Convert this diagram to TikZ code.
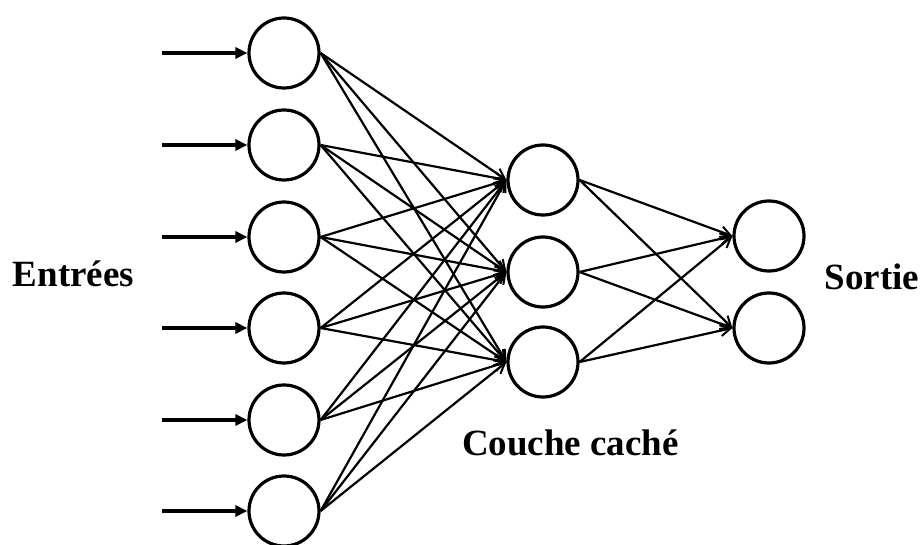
\documentclass[tikz,border=0pt]{standalone}
\usepackage{fontspec}
\setmainfont{Liberation Serif}
\usetikzlibrary{arrows.meta}
\begin{document}
\begin{tikzpicture}[x=1pt,y=-1pt,
  neuron/.style={circle,draw,line width=3.2pt,minimum size=70pt,inner sep=0pt},
  link/.style={line width=2.2pt,-{Straight Barb[length=10pt,width=11pt,line width=2pt]}},
  inarrow/.style={line width=3.2pt,-{Triangle[length=12pt,width=11pt]}},
  lbl/.style={font=\fontsize{37}{40}\selectfont\bfseries,anchor=base,inner sep=0pt}]
\useasboundingbox (0,0) rectangle (924,545);
\foreach \i/\y in {1/53,2/145,3/237,4/328,5/420,6/511}{
  \node[neuron] (i\i) at (284,\y) {};
  \coordinate (s\i) at (162,\y);
  \draw[inarrow] (s\i) -- (i\i.west);
}
\foreach \j/\y in {1/180,2/272,3/362}{
  \node[neuron] (h\j) at (543,\y) {};
}
\foreach \k/\y in {1/236,2/328}{
  \node[neuron] (o\k) at (769,\y) {};
}
\foreach \i in {1,...,6}{\foreach \j in {1,2,3}{\draw[link] (i\i.east) -- (h\j.west);}}
\foreach \j in {1,2,3}{\foreach \k in {1,2}{\draw[link] (h\j.east) -- (o\k.west);}}
\node[lbl] (entrees) at (73.5,287) {Entrées};
\node[lbl] (sortie) at (872,290) {Sortie};
\node[lbl] (couche) at (570.5,455) {Couche caché};
\end{tikzpicture}
\end{document}
